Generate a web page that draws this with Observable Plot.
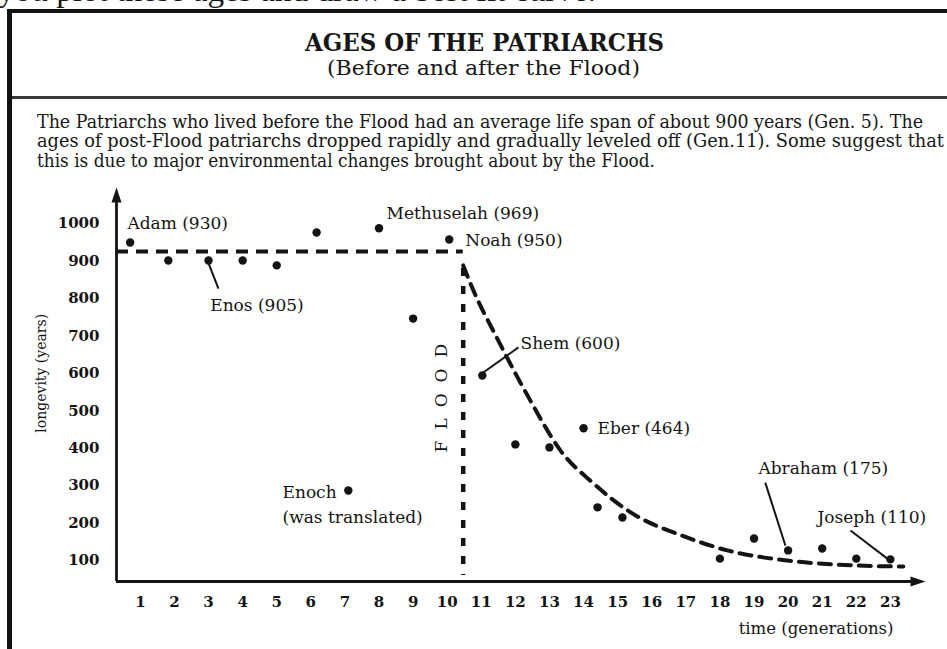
<!DOCTYPE html>
<html>
<head>
<meta charset="utf-8">
<script src="https://cdn.jsdelivr.net/npm/d3@7"></script>
<script src="https://cdn.jsdelivr.net/npm/@observablehq/plot@0.6"></script>
<style>
html, body { margin: 0; padding: 0; background: #fff; }
#wrap { position: relative; width: 947px; height: 649px; overflow: hidden; background: #fff; font-family: "DejaVu Serif", serif; color: #161616; }
.t { position: absolute; white-space: nowrap; line-height: 1; transform-origin: 0 0; }
.frameL { position: absolute; left: 7px; top: 9px; width: 5px; height: 640px; background: #111; }
.frameT { position: absolute; left: 7px; top: 9px; width: 940px; height: 4px; background: #111; }
.sep { position: absolute; left: 12px; top: 96px; width: 935px; height: 3px; background: #3a3a3a; }
#chart { position: absolute; left: 0; top: 0; }
</style>
</head>
<body>
<div id="wrap">
  <div id="chart"></div>
  <div class="frameL"></div>
  <div class="frameT"></div>
  <div class="sep"></div>
  <div class="t" id="cut" style="font-family:'Liberation Serif',serif;font-size:31px;">you plot these ages and draw a best fit curve.</div>
  <div class="t" id="title" style="font-weight:bold;font-size:24px;">AGES OF THE PATRIARCHS</div>
  <div class="t" id="sub" style="font-size:21px;">(Before and after the Flood)</div>
  <div class="t" id="p1" style="font-size:19px;">The Patriarchs who lived before the Flood had an average life span of about 900 years (Gen. 5). The</div>
  <div class="t" id="p2" style="font-size:19px;">ages of post-Flood patriarchs dropped rapidly and gradually leveled off (Gen.11). Some suggest that</div>
  <div class="t" id="p3" style="font-size:19px;">this is due to major environmental changes brought about by the Flood.</div>
</div>
<script>
// ---- data ----
const generations = [0.7, 1.82, 3, 4, 5, 6.17, 7.1, 8, 9, 10.06, 11.03, 12, 13, 14, 14.41, 15.14, 18, 19, 20, 21, 22, 23];
const ages        = [949, 901, 901, 901, 888, 976, 287, 987, 746, 957, 594, 410, 402, 453, 242, 215, 105, 159, 127, 132, 105, 103];

// best-fit curve (post-Flood)
const curveGen = [10.47, 10.68, 11.5, 12.44, 13.32, 14.29, 15.29, 17.05, 18.22, 19.98, 21.92, 23.38];
const curveAge = [888, 840, 687, 527, 394, 306, 234, 161, 127, 100, 87, 84];

// pre-Flood average level and the Flood marker
const preFloodLevel = [925];
const preFloodSpan = [0.3, 10.47];
const floodGen = [10.47];
const floodSpan = [880, 60];

// labels
const labelText = ["Adam (930)", "Methuselah (969)", "Noah (950)", "Enos (905)", "Shem (600)", "Eber (464)", "Enoch", "(was translated)", "Abraham (175)", "Joseph (110)"];
const labelGen  = [0.62, 8.22, 10.53, 3.05, 12.15, 14.41, 5.17, 5.17, 19.13, 20.86];
const labelAge  = [1000, 1027, 954, 781, 679, 452, 282, 215, 346, 215];

// leader lines
const leaderFromGen = [2.99, 11.06, 19.33, 21.83];
const leaderFromAge = [896, 602, 308, 180];
const leaderToGen   = [3.29, 12.09, 19.92, 22.91];
const leaderToAge   = [826, 669, 140, 105];

const xTicks = d3.range(1, 24);
const yTicks = [100, 200, 300, 400, 500, 600, 700, 800, 900, 1000];
const xDomain = [0.3, 24.03];
const yDomain = [44, 1096];

// ---- build tables ----
const points = generations.map((g, i) => ({g, a: ages[i]}));
const curve = curveGen.map((g, i) => ({g, a: curveAge[i]}));
const labels = labelText.map((t, i) => ({t, g: labelGen[i], a: labelAge[i]}));
const leaders = leaderFromGen.map((g, i) => ({g1: g, a1: leaderFromAge[i], g2: leaderToGen[i], a2: leaderToAge[i]}));

const arrowHead = {
  draw(ctx) { ctx.moveTo(0, -7.5); ctx.lineTo(5, 7.5); ctx.lineTo(-5, 7.5); ctx.closePath(); }
};

const ink = "#141414";

const chart = Plot.plot({
  width: 947,
  height: 649,
  marginLeft: 116,
  marginRight: 22,
  marginTop: 187,
  marginBottom: 68,
  style: {fontFamily: "DejaVu Serif, serif", fontSize: "17px", color: ink, background: "transparent", overflow: "visible"},
  x: {domain: xDomain},
  y: {domain: yDomain},
  marks: [
    // axes lines + arrow heads
    Plot.ruleX([xDomain[0]], {y1: yDomain[0], y2: 1074, stroke: ink, strokeWidth: 2.8}),
    Plot.ruleY([yDomain[0]], {x1: xDomain[0], x2: 23.8, stroke: ink, strokeWidth: 2.8}),
    Plot.dot([{g: xDomain[0], a: 1076}], {x: "g", y: "a", symbol: arrowHead, fill: ink, stroke: "none"}),
    Plot.dot([{g: 23.81, a: yDomain[0]}], {x: "g", y: "a", symbol: arrowHead, rotate: 90, fill: ink, stroke: "none"}),
    Plot.axisX({ticks: xTicks, tickSize: 0, tickPadding: 15, tickFormat: d => String(d), fontSize: 15, fontWeight: "bold", label: null}),
    Plot.axisY({ticks: yTicks, tickSize: 0, tickPadding: 17, tickFormat: d => String(d), fontSize: 15, fontWeight: "bold", label: null}),
    Plot.text(["longevity (years)"], {frameAnchor: "left", y: 600, dx: -75, rotate: -90, textAnchor: "middle", lineAnchor: "middle", fontSize: 14}),
    Plot.text(["time (generations)"], {frameAnchor: "bottom-right", dx: -32, dy: 47, textAnchor: "end", lineAnchor: "middle", fontSize: 16.5}),
    // pre-Flood average
    Plot.ruleY(preFloodLevel, {x1: preFloodSpan[0], x2: preFloodSpan[1], stroke: ink, strokeWidth: 4, strokeDasharray: "12,8"}),
    // Flood
    Plot.ruleX(floodGen, {y1: floodSpan[0], y2: floodSpan[1], stroke: ink, strokeWidth: 4.5, strokeDasharray: "8,10"}),
    Plot.text(["FLOOD"], {x: 9.83, y: 535, rotate: -90, fontSize: 17}),
    // post-Flood best-fit curve
    Plot.line(curve, {x: "g", y: "a", curve: "monotone-x", stroke: ink, strokeWidth: 4, strokeDasharray: "12,8"}),
    // leaders
    Plot.link(leaders, {x1: "g1", y1: "a1", x2: "g2", y2: "a2", stroke: ink, strokeWidth: 2}),
    // data points
    Plot.dot(points, {x: "g", y: "a", r: 4.2, fill: ink, stroke: "none"}),
    // labels
    Plot.text(labels, {x: "g", y: "a", text: "t", textAnchor: "start", fontSize: 17})
  ]
});
document.getElementById("chart").appendChild(chart);

// letter-space the vertical FLOOD caption
d3.select(chart).selectAll("text").filter(function() { return this.textContent === "FLOOD"; })
  .attr("letter-spacing", "11px").attr("dx", "5px");

// ---- header text placement (fit to the reference widths) ----
function natural(id) { return document.getElementById(id).getBoundingClientRect().width; }
function place(id, left, top, width) {
  const el = document.getElementById(id);
  const s = width / natural(id);
  el.style.left = left + "px";
  el.style.top = top + "px";
  el.style.transform = `scaleX(${s})`;
}
place("cut", -2, -25, 598);
place("title", 305, 31, 359);
place("sub", 327, 58, 313);
place("p1", 37, 111.5, 886);
place("p2", 37, 131, 907);
place("p3", 37, 150.5, 618);
</script>
</body>
</html>
